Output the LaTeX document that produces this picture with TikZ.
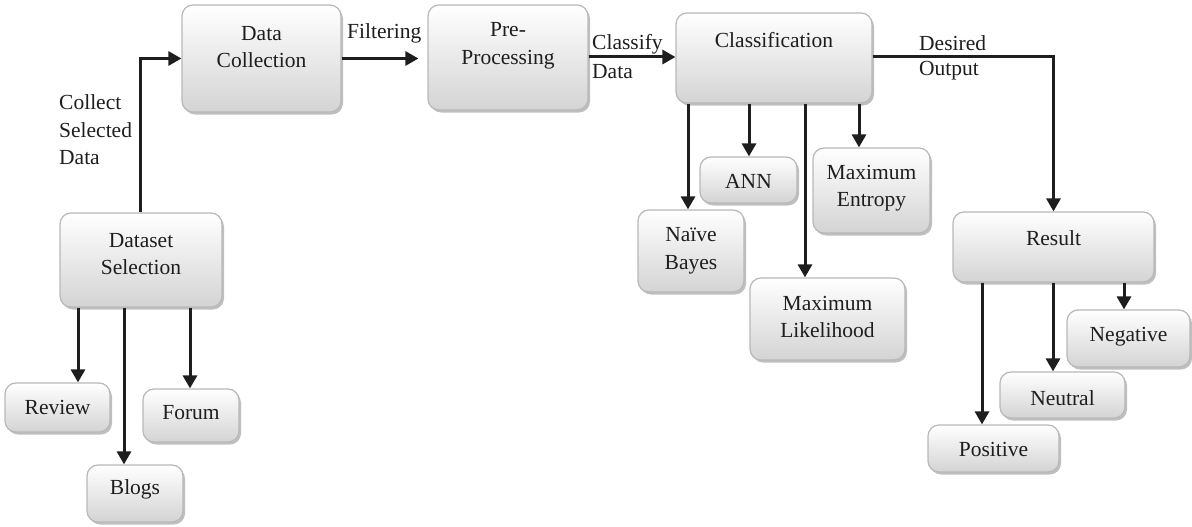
\documentclass[tikz,border=0pt]{standalone}
\usepackage{fontspec}
\setmainfont{Liberation Serif}
\usetikzlibrary{arrows.meta,shadows,calc}
\definecolor{ink}{HTML}{1E1E1E}
\definecolor{edge}{HTML}{B8B8B8}
\begin{document}
\begin{tikzpicture}[x=1pt,y=-1pt,
  box/.style={draw=edge,line width=1.2pt,rounded corners=11pt,
    top color=white,bottom color=black!17,
    drop shadow={shadow xshift=2pt,shadow yshift=-2.5pt,fill=black!50,opacity=0.5},
    inner sep=0pt},
  txt/.style={font=\fontsize{21.5}{27.5}\selectfont,text=ink,align=center,inner sep=0pt},
  ltxt/.style={font=\fontsize{21.5}{27.5}\selectfont,text=ink,align=left,inner sep=0pt,anchor=west},
  arr/.style={draw=ink,line width=3pt,-{Triangle[length=13pt,width=14pt]}}]
\useasboundingbox (0,0) rectangle (1192,527);

% boxes
\node[box,minimum width=159,minimum height=107] (dcoll) at (261.5,58.5) {};
\node[box,minimum width=160,minimum height=105] (prep) at (508,57.5) {};
\node[box,minimum width=196,minimum height=90] (cls) at (774,58) {};
\node[box,minimum width=162,minimum height=94] (dset) at (141,260) {};
\node[box,minimum width=105,minimum height=49] (rev) at (57.5,407.5) {};
\node[box,minimum width=96,minimum height=53] (forum) at (191,415.5) {};
\node[box,minimum width=96,minimum height=57] (blogs) at (135,493.5) {};
\node[box,minimum width=106,minimum height=82] (nb) at (691,251) {};
\node[box,minimum width=97,minimum height=46] (ann) at (748.5,180) {};
\node[box,minimum width=155,minimum height=82] (mlik) at (827.5,319) {};
\node[box,minimum width=117,minimum height=85] (ment) at (871.5,190.5) {};
\node[box,minimum width=201,minimum height=70] (res) at (1053.5,247) {};
\node[box,minimum width=123,minimum height=57] (neg) at (1128.5,338.5) {};
\node[box,minimum width=125,minimum height=46] (neu) at (1062.5,395) {};
\node[box,minimum width=131,minimum height=47] (pos) at (993.5,448.5) {};

% box texts
\node[txt] (tdcoll) at (261.5,47) {Data\\Collection};
\node[txt] (tprep) at (508,46) {Pre-\\Processing};
\node[txt] (tcls) at (774,40) {Classification};
\node[txt] (tdset) at (141,254) {Dataset\\Selection};
\node[txt] (trev) at (57.5,407) {Review};
\node[txt] (tforum) at (191,413) {Forum};
\node[txt] (tblogs) at (135,489) {Blogs};
\node[txt] (tnb) at (691,251) {Naïve\\Bayes};
\node[txt] (tann) at (748.5,181) {ANN};
\node[txt] (tmlik) at (827.5,317) {Maximum\\Likelihood};
\node[txt] (tment) at (871.5,188) {Maximum\\Entropy};
\node[txt] (tres) at (1053.5,238) {Result};
\node[txt] (tneg) at (1128.5,337) {Negative};
\node[txt] (tneu) at (1062.5,398) {Neutral};
\node[txt] (tpos) at (993.5,449) {Positive};

% connector labels
\node[ltxt] (lcollect) at (59,130) {Collect\\Selected\\Data};
\node[ltxt] (lfilt) at (347,33) {Filtering};
\node[ltxt] (lclassify) at (592,44) {Classify};
\node[ltxt] (ldata) at (592,72) {Data};
\node[ltxt] (ldesired) at (919,43) {Desired};
\node[ltxt] (loutput) at (919,71) {Output};

% main flow
\draw[arr] (dset.north -| 140,0) |- (dcoll.west);
\draw[arr,shorten >=9pt] (dcoll.east) -- (prep.west |- dcoll.east);
\draw[arr] (prep.east |- 0,57) -- (cls.west |- 0,57);
\draw[arr] (cls.east |- 0,57) -| (res.north);

% dataset sources
\draw[arr] (dset.south -| 78,0) -- (rev.north -| 78,0);
\draw[arr] (dset.south -| 124,0) -- (blogs.north -| 124,0);
\draw[arr] (dset.south -| 190,0) -- (forum.north -| 190,0);

% classifiers
\draw[arr] (cls.south -| 688,0) -- (nb.north -| 688,0);
\draw[arr] (cls.south -| 749,0) -- (ann.north -| 749,0);
\draw[arr] (cls.south -| 805,0) -- (mlik.north -| 805,0);
\draw[arr] (cls.south -| 859,0) -- (ment.north -| 859,0);

% sentiment outcomes
\draw[arr] (res.south -| 982,0) -- (pos.north -| 982,0);
\draw[arr] (res.south -| 1053,0) -- (neu.north -| 1053,0);
\draw[arr] (res.south -| 1124,0) -- (neg.north -| 1124,0);
\end{tikzpicture}
\end{document}
